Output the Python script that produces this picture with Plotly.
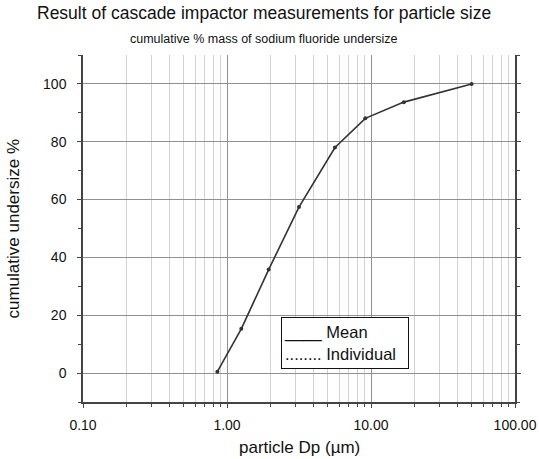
import plotly.graph_objects as go

# Data
particle_dp = [0.857, 1.257, 1.947, 3.16, 5.62, 9.13, 16.9, 50.0]
cumulative_pct = [0.5, 15.3, 35.8, 57.4, 78.0, 88.1, 93.7, 100.0]

x_major_ticks = [0.1, 1, 10, 100]
x_major_labels = ["0.10", "1.00", "10.00", "100.00"]
x_minor_ticks = [m * d for d in (0.1, 1, 10) for m in range(2, 10)]

FONT = "Arial, Liberation Sans, sans-serif"

fig = go.Figure()
fig.add_trace(go.Scatter(
    x=particle_dp, y=cumulative_pct, mode="lines+markers",
    line=dict(color="#333333", width=1.6),
    marker=dict(color="#333333", size=4),
    showlegend=False, hoverinfo="skip"))

fig.update_layout(
    width=539, height=459,
    margin=dict(l=83, r=24, t=55, b=57, autoexpand=False),
    paper_bgcolor="white", plot_bgcolor="white",
    font=dict(family=FONT, color="#111111"),
)

fig.update_xaxes(
    type="log", range=[-1, 2], automargin=False,
    tickvals=x_major_ticks, ticktext=x_major_labels,
    tickfont=dict(size=14, color="#111111"),
    showgrid=True, gridcolor="#909090", gridwidth=1,
    showline=True, linecolor="#444444", linewidth=1.5,
    ticks="outside", ticklen=4, tickcolor="#444444",
    ticklabelstandoff=5,
    minor=dict(tickvals=x_minor_ticks, showgrid=True, gridcolor="#d2d2d2",
               gridwidth=1, ticks="outside", ticklen=3, tickcolor="#444444"),
    zeroline=False,
)
fig.update_yaxes(
    range=[-10, 110], tick0=0, dtick=20, automargin=False,
    tickfont=dict(size=14, color="#111111"),
    showgrid=True, gridcolor="#909090", gridwidth=1,
    showline=True, linecolor="#444444", linewidth=1.5, mirror="ticks",
    ticks="outside", ticklen=4, tickcolor="#444444",
    ticklabelstandoff=8,
    minor=dict(dtick=10, showgrid=False, ticks="outside", ticklen=3,
               tickcolor="#444444"),
    zeroline=False,
)

fig.add_annotation(
    text="Result of cascade impactor measurements for particle size",
    xref="paper", yref="paper", x=0.42, y=1, yshift=42,
    xanchor="center", yanchor="middle", showarrow=False,
    font=dict(size=17.5, family=FONT, color="#111111"))
fig.add_annotation(
    text="cumulative % mass of sodium fluoride undersize",
    xref="paper", yref="paper", x=0.42, y=1, yshift=16,
    xanchor="center", yanchor="middle", showarrow=False,
    font=dict(size=12.5, family=FONT, color="#111111"))
fig.add_annotation(
    text="particle Dp (µm)",
    xref="paper", yref="paper", x=0.5, y=0, yshift=-45,
    xanchor="center", yanchor="middle", showarrow=False,
    font=dict(size=17, family=FONT, color="#111111"))
fig.add_annotation(
    text="cumulative undersize %",
    xref="paper", yref="paper", x=0, xshift=-70, y=0.5,
    xanchor="center", yanchor="middle", textangle=-90, showarrow=False,
    font=dict(size=17, family=FONT, color="#111111"))
fig.add_annotation(
    text="____ Mean<br>........ Individual",
    xref="paper", yref="paper", x=0.459, y=0.245,
    xanchor="left", yanchor="top", align="left", valign="middle",
    width=122, height=46, borderpad=2,
    bordercolor="#111111", borderwidth=1, bgcolor="white", showarrow=False,
    font=dict(size=16.5, family=FONT, color="#111111"))

fig.write_html(
    "out.html",
    config={"displayModeBar": False},
    post_script="document.body.style.margin='0';document.body.style.padding='0';",
)
